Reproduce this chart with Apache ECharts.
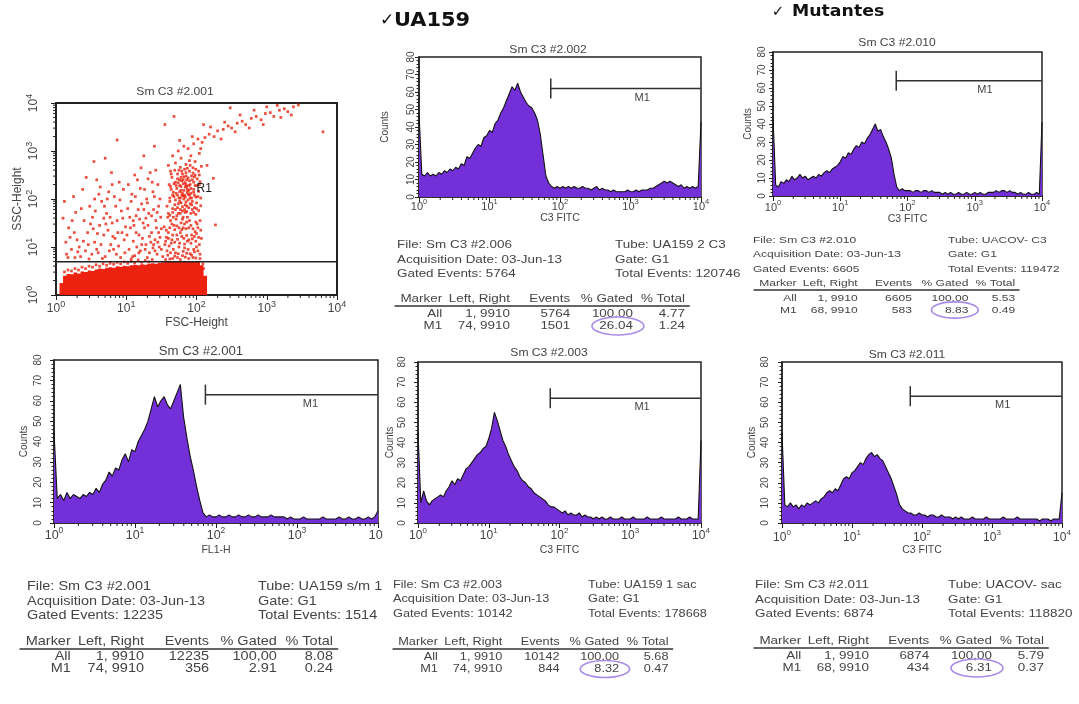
<!DOCTYPE html>
<html>
<head>
<meta charset="utf-8">
<script src="https://cdn.jsdelivr.net/npm/echarts@6/dist/echarts.min.js"></script>
<style>
  html, body { margin: 0; padding: 0; background: #ffffff; }
  #chart { width: 1079px; height: 704px; }
</style>
</head>
<body>
<div id="chart"></div>
<script>
// ---------------------------------------------------------------------------
// Flow cytometry data (fluorescence axes in decades: 0 = 10^0 ... 4 = 10^4)
// ---------------------------------------------------------------------------
const decadeStep = 0.04;   // spacing of histogram channels, in decades

// Counts per channel, one array per histogram
const hist2002 = [48,13,12,14,12,13,12,14,13,15,14,16,15,17,16,19,18,23,22,25,28,30,29,34,35,38,37,42,44,48,51,55,59,63,61,65,60,57,54,52,51,48,44,36,24,12,8,6,5,6,5,6,5,6,5,6,5,5,6,5,5,4,5,6,4,5,4,4,3,4,3,3,3,3,4,3,3,4,3,4,4,4,5,5,6,7,8,9,8,9,8,7,6,7,5,6,5,6,5,6,43];
const hist2010 = [44,6,5,8,7,9,8,11,9,10,12,10,11,9,10,11,10,12,11,13,14,13,15,16,17,19,22,21,24,23,26,28,27,30,29,32,34,37,40,36,37,33,30,26,21,12,5,3,4,3,3,3,2,3,3,2,3,3,2,3,2,2,2,1,2,1,2,1,1,2,1,1,2,1,1,2,1,2,1,1,2,2,2,3,2,3,3,2,3,2,2,1,2,1,1,2,1,1,2,1,41];
const hist2001 = [45,12,14,11,15,12,14,13,12,14,13,15,14,17,15,19,21,25,23,27,26,31,34,30,36,35,40,43,46,50,56,62,57,60,62,58,56,60,64,68,52,42,33,26,18,11,5,3,4,3,3,4,3,3,4,3,3,4,3,3,4,3,3,4,3,3,3,4,3,3,3,3,2,3,2,2,2,3,2,2,2,2,2,3,2,2,2,2,3,2,2,3,2,2,3,2,2,3,2,3,6];
const hist2003 = [45,10,16,11,9,11,12,13,14,13,16,18,21,19,22,21,24,27,28,30,32,34,35,37,38,42,47,55,51,46,41,38,34,31,28,26,23,21,20,18,17,15,14,13,12,11,9,8,8,7,6,5,6,4,5,4,4,5,3,4,3,3,2,3,2,3,2,2,3,2,2,2,3,2,2,2,3,2,2,2,2,3,2,2,2,2,3,2,2,2,2,2,3,2,2,2,3,2,2,2,41];
const hist2011 = [45,9,8,10,8,9,7,9,8,10,9,10,11,10,12,13,15,16,15,17,16,19,22,23,22,25,26,28,30,29,32,34,35,33,34,32,31,28,25,22,18,14,9,7,6,5,5,4,4,5,4,4,3,4,4,3,3,4,3,3,3,2,3,2,3,2,2,2,3,2,2,2,2,3,2,2,2,2,2,3,2,2,2,2,3,2,2,2,2,2,2,2,1,2,2,2,1,2,2,2,15];

const panelTitles = ['Sm C3 #2.002', 'Sm C3 #2.010', 'Sm C3 #2.001', 'Sm C3 #2.003', 'Sm C3 #2.011'];
const channelNames = ['C3 FITC', 'C3 FITC', 'FL1-H', 'C3 FITC', 'C3 FITC'];
const markerLeft = [74, 68, 74, 74, 68];      // M1 gate start channel
const markerRight = 9910;                      // M1 gate end channel
const markerCountLevel = [62, 64, 63, 62, 63]; // height at which M1 is drawn
const allLeft = 1;

// Scatter (FSC-Height vs SSC-Height), in decades
const scatterTitle = 'Sm C3 #2.001';
const regionR1Floor = 4.9;   // SSC channel of the R1 lower edge
// top of the saturated low-SSC band, per 0.05-decade FSC column starting at 0.05
const bandStartFsc = 0.05;
const bandStep = 0.05;
const bandTopSsc = [0.25,0.40,0.44,0.43,0.47,0.45,0.49,0.48,0.51,0.50,0.53,0.55,0.54,0.57,0.58,0.57,0.60,0.59,0.61,0.60,
                    0.62,0.63,0.62,0.64,0.63,0.65,0.66,0.65,0.67,0.68,0.69,0.69,0.69,0.69,0.69,0.69,0.69,0.69,0.69,0.69,0.62,0.40];
const scatterDecades = [
  // sparse low-FSC cloud
  [0.12,1.95],[0.18,1.40],[0.22,0.95],[0.15,0.85],[0.28,1.72],[0.30,1.15],[0.35,0.80],[0.25,2.05],[0.40,1.55],[0.42,0.92],
  [0.45,1.30],[0.38,2.20],[0.48,1.85],[0.20,1.20],[0.33,1.00],[0.47,0.75],[0.10,1.60],[0.27,0.78],
  [0.52,1.62],[0.55,1.10],[0.58,2.40],[0.60,0.88],[0.62,1.45],[0.65,1.95],[0.68,1.25],[0.70,0.80],[0.72,1.70],[0.75,2.15],
  [0.78,1.05],[0.80,1.50],[0.82,0.95],[0.85,1.85],[0.88,1.30],[0.90,2.35],[0.92,0.78],[0.95,1.60],[0.97,1.15],[0.55,2.00],
  [0.63,2.25],[0.74,1.35],[0.86,0.85],[0.58,0.95],[0.68,1.60],[0.79,2.55],[0.91,1.98],[0.53,1.38],[0.99,1.42],[0.84,1.18],
  [1.02,1.80],[1.04,0.95],[1.06,1.40],[1.08,2.10],[1.10,1.12],[1.12,0.82],[1.14,1.65],[1.16,2.40],[1.18,1.25],[1.20,0.92],
  [1.22,1.90],[1.24,1.50],[1.26,2.20],[1.28,1.05],[1.30,0.78],[1.32,1.70],[1.34,2.55],[1.36,1.30],[1.38,0.98],[1.40,2.05],
  [1.42,1.55],[1.44,0.85],[1.46,1.85],[1.48,1.20],[1.05,1.62],[1.15,1.00],[1.25,1.78],[1.35,1.10],[1.45,2.30],[1.03,2.30],
  [1.13,2.05],[1.23,1.18],[1.33,0.88],[1.43,1.40],[1.19,1.58],[1.29,2.00],[1.39,1.78],[1.47,1.00],[1.11,1.45],[1.21,2.65],
  [1.31,1.45],[1.41,1.15],[1.09,0.80],[1.27,0.95],[1.37,2.35],[1.49,1.62],
  [0.14,1.10],[0.17,0.78],[0.23,1.55],[0.26,1.30],[0.31,0.90],[0.36,1.80],[0.39,1.12],[0.43,2.45],[0.46,1.05],[0.49,1.48],
  [0.51,0.85],[0.56,1.75],[0.59,1.28],[0.61,2.10],[0.64,1.05],[0.66,0.76],[0.69,1.85],[0.71,1.48],[0.73,2.00],[0.76,0.92],
  [0.77,1.62],[0.81,1.22],[0.83,2.05],[0.87,1.55],[0.89,1.02],[0.93,1.75],[0.94,1.30],[0.96,2.20],[0.98,0.88],[1.01,1.25],
  [1.07,1.95],[1.10,1.55],[1.14,1.30],[1.17,1.78],[1.20,2.22],[1.22,1.05],[1.26,1.40],[1.30,1.92],[1.33,1.22],[1.36,1.65],
  [1.38,2.15],[1.41,0.92],[1.44,1.72],[1.46,1.30],[1.48,2.00],[1.50,1.38],[1.07,0.75],[1.18,0.88],[1.28,1.60],[1.39,1.05],
  [1.50,0.95],[1.42,2.60],[1.12,2.50],[0.80,2.30],[1.31,2.42],[1.45,1.10],
  // dense column and R1 cluster
  [1.52,0.80],[1.55,1.05],[1.58,0.92],[1.60,1.30],[1.62,0.75],[1.65,1.15],[1.68,1.45],[1.70,0.88],[1.72,1.25],[1.75,1.00],
  [1.78,1.50],[1.80,0.82],[1.82,1.18],[1.85,1.38],[1.88,0.95],[1.90,1.55],[1.92,1.08],[1.95,0.78],[1.98,1.32],[2.00,1.00],
  [2.03,1.20],[2.05,0.85],[1.54,1.42],[1.63,1.55],[1.73,0.78],[1.83,0.98],[1.93,1.25],[2.01,1.48],[1.57,1.20],[1.67,0.95],
  [1.77,1.30],[1.87,1.12],[1.97,0.90],[1.61,1.02],[1.71,1.58],[1.81,1.40],[1.91,0.86],[1.99,1.12],[2.06,1.35],[1.59,1.62],
  [1.56,0.74],[1.59,0.83],[1.63,0.88],[1.66,0.76],[1.69,0.81],[1.74,0.86],[1.77,0.74],[1.81,0.91],[1.84,0.79],[1.86,0.87],
  [1.89,0.76],[1.93,0.83],[1.96,0.95],[1.99,0.77],[2.02,0.92],[2.05,0.76],[1.56,1.12],[1.60,1.18],[1.64,1.08],[1.66,1.25],
  [1.69,1.10],[1.73,1.16],[1.76,1.08],[1.79,1.22],[1.83,1.06],[1.86,1.24],[1.89,1.15],[1.94,1.17],[1.97,1.22],[2.00,1.28],
  [2.04,1.05],[2.07,1.18],[1.57,1.35],[1.62,1.40],[1.65,1.48],[1.69,1.36],[1.72,1.44],[1.75,1.40],[1.79,1.36],[1.83,1.48],
  [1.86,1.52],[1.89,1.40],[1.92,1.45],[1.95,1.38],[1.99,1.52],[2.02,1.40],[2.05,1.55],[1.80,1.58],
  [1.60,1.70],[1.62,1.95],[1.64,2.20],[1.66,1.80],[1.68,2.05],[1.70,2.35],[1.72,1.65],[1.74,1.90],[1.76,2.15],[1.78,2.45],
  [1.80,1.75],[1.82,2.00],[1.84,2.25],[1.86,1.85],[1.88,2.10],[1.90,2.38],[1.92,1.70],[1.94,1.95],[1.96,2.20],[1.98,2.50],
  [2.00,1.80],[2.02,2.05],[2.04,2.30],[1.65,2.45],[1.75,2.60],[1.85,2.55],[1.95,2.65],[1.61,2.30],[1.71,2.12],[1.81,2.32],
  [1.91,2.02],[2.01,2.28],[1.67,1.62],[1.77,1.78],[1.87,1.62],[1.97,1.82],[1.63,2.58],[1.73,2.42],[1.83,2.62],[1.93,2.48],
  [2.03,2.58],[1.69,1.88],[1.79,2.08],[1.89,2.28],[1.99,1.68],[1.58,1.85],[1.78,1.92],[1.88,1.98],[1.82,2.18],[1.86,2.40],
  [1.76,2.28],[1.84,1.72],[1.92,2.12],[1.80,2.52],[1.72,2.22],[1.96,2.35],[1.66,2.08],[1.74,1.70],[1.94,1.78],[1.90,2.58],
  [1.84,1.88],[1.78,2.18],[1.87,2.20],[1.83,2.08],[1.79,2.38],[1.91,1.90],[1.75,2.02],[1.85,2.30],[1.81,1.62],[1.97,2.08],
  [1.62,1.66],[1.66,1.72],[1.70,1.78],[1.73,1.82],[1.77,1.70],[1.80,1.84],[1.83,1.78],[1.86,1.74],[1.89,1.82],[1.93,1.88],
  [1.96,1.72],[2.00,1.92],[2.03,1.76],[2.06,1.86],[1.76,1.95],[1.85,1.94],[1.62,2.02],[1.67,2.14],[1.70,1.98],[1.73,2.08],
  [1.77,2.02],[1.80,2.12],[1.84,2.04],[1.87,2.14],[1.90,2.08],[1.93,2.02],[1.96,2.14],[1.99,2.04],[2.03,2.16],[2.06,2.02],
  [1.81,2.06],[1.89,2.18],[1.63,2.26],[1.68,2.32],[1.71,2.28],[1.74,2.34],[1.78,2.26],[1.81,2.40],[1.84,2.34],[1.88,2.44],
  [1.91,2.30],[1.94,2.40],[1.98,2.28],[2.01,2.42],[2.05,2.36],[1.86,2.26],[1.76,2.40],[1.92,2.22],[1.64,2.52],[1.69,2.60],
  [1.73,2.52],[1.77,2.66],[1.82,2.46],[1.87,2.64],[1.91,2.70],[1.95,2.54],[1.99,2.62],[2.04,2.50],[2.07,2.68],[1.79,2.58],
  [1.85,2.48],[1.97,2.46],
  // upper column
  [1.70,2.75],[1.78,2.85],[1.85,2.72],[1.92,2.90],[1.98,2.78],[2.04,2.95],[1.74,3.00],[1.88,3.05],[1.96,3.15],[2.02,3.25],
  [1.82,3.10],[1.66,2.90],[2.06,3.05],[1.90,2.80],[1.60,2.70],[2.08,3.18],[1.94,3.30],[1.76,3.22],
  // high-FSC diagonal tail
  [2.12,3.28],[2.18,3.35],[2.25,3.30],[2.30,3.42],[2.38,3.45],[2.45,3.52],[2.50,3.48],[2.58,3.58],[2.65,3.62],[2.70,3.55],
  [2.78,3.68],[2.85,3.72],[2.92,3.65],[2.98,3.78],[3.05,3.80],[3.10,3.72],[3.18,3.85],[3.25,3.88],[3.30,3.82],[3.38,3.92],
  [3.45,3.96],[2.20,3.50],[2.40,3.60],[2.62,3.75],[2.82,3.85],[3.00,3.92],[3.15,3.95],[2.55,3.40],[2.75,3.48],[2.95,3.55],
  [3.20,3.70],[3.35,3.75],[2.35,3.25],
  // isolated events
  [3.80,3.40],[2.48,3.90],[1.68,3.72],[0.87,3.23],[0.54,2.78],[2.24,2.43],[2.27,1.46],[1.55,3.55],[1.40,3.10],[2.15,2.70],
  [1.25,2.90],[0.70,2.85],[2.10,3.55],
  // ragged top of the low-SSC band
  [0.12,0.48],[0.22,0.50],[0.32,0.52],[0.42,0.55],[0.52,0.58],[0.62,0.60],[0.72,0.62],[0.82,0.64],[0.92,0.65],[1.02,0.66],
  [1.12,0.67],[1.22,0.68],[1.32,0.69],[0.27,0.55],[0.47,0.60],[0.67,0.65],[0.87,0.68],[1.07,0.70],[1.27,0.72],[0.17,0.52],
  [0.37,0.58],[0.57,0.63],[0.77,0.66],[0.97,0.69],[1.17,0.73],[1.37,0.74],[2.10,0.55],[2.12,0.30],[2.09,0.65],[2.13,0.15]
];

// Statistics tables
const statFile = ['Sm C3 #2.006', 'Sm C3 #2.010', 'Sm C3 #2.001', 'Sm C3 #2.003', 'Sm C3 #2.011'];
const statTube = ['UA159 2 C3', 'UACOV- C3', 'UA159 s/m 1', 'UA159 1 sac', 'UACOV- sac'];
const statDate = '03-Jun-13';
const statGate = 'G1';
const statGatedEvents = [5764, 6605, 12235, 10142, 6874];
const statTotalEvents = ['120746', '119472', '1514', '178668', '118820'];
const statAllPctGated = ['100.00', '100.00', '100,00', '100.00', '100,00'];
const statAllPctTotal = ['4.77', '5.53', '8.08', '5.68', '5.79'];
const statM1Events = [1501, 583, 356, 844, 434];
const statM1PctGated = ['26.04', '8.83', '2.91', '8.32', '6.31'];
const statM1PctTotal = ['1.24', '0.49', '0.24', '0.47', '0.37'];
const statCircled = [true, true, false, true, true];
const tableHeader = ['Marker', 'Left, Right', 'Events', '% Gated', '% Total'];

// ---------------------------------------------------------------------------
// Layout and styling
// ---------------------------------------------------------------------------
const FONT = '"Liberation Sans", Arial, sans-serif';
const INK = '#222222';
const TXT = '#444444';
const FILL = '#7430d8';
const DOT = '#e8200c';

const histLayout = [
  { grid: { left: 419, top: 57,  width: 282, height: 140 }, lab: 11,   sup: 7.5, xm: 1, xng: 10, ym: 3,  yng: 29, title: [548, 50], tfs: 11 },
  { grid: { left: 773, top: 52,  width: 269, height: 144 }, lab: 11,   sup: 7.5, xm: 3, xng: 12, ym: 6,  yng: 20, title: [897, 43], tfs: 11 },
  { grid: { left: 54,  top: 360, width: 324, height: 163 }, lab: 12.5, sup: 8.5, xm: 3, xng: 22, ym: 11, yng: 25, title: [201, 352], tfs: 12 },
  { grid: { left: 418, top: 362, width: 283, height: 161 }, lab: 12,   sup: 8,   xm: 4, xng: 22, ym: 11, yng: 23, title: [549, 353], tfs: 11 },
  { grid: { left: 782, top: 362, width: 280, height: 161 }, lab: 12,   sup: 8,   xm: 6, xng: 22, ym: 12, yng: 25, title: [907, 355], tfs: 11 }
];
const scatterLayout = { grid: { left: 56, top: 103, width: 281, height: 192 }, lab: 12, sup: 9, xm: 5, xng: 22, ym: 13, yng: 30, title: [175, 92], tfs: 11 };

const blockLayout = [
  { x0: 397, fileX: 397, yFile: 245, yHead: 299, s: 1.0,  tubeX: 615 },
  { x0: 756, fileX: 753, yFile: 240, yHead: 283, s: 0.9,  tubeX: 948 },
  { x0: 22,  fileX: 27,  yFile: 587, yHead: 642, s: 1.08, tubeX: 258 },
  { x0: 395, fileX: 393, yFile: 585, yHead: 642, s: 0.95, tubeX: 588 },
  { x0: 756, fileX: 755, yFile: 585, yHead: 641, s: 1.0,  tubeX: 948 }
];
const colRight = [37, 92.6, 142, 193.4, 236];
const STRETCH = 1.22;

// minor tick positions of a 4-decade log axis
const logMinor = [];
for (let d = 0; d < 4; d++) for (let k = 2; k <= 9; k++) logMinor.push(d + Math.log10(k));

function decadeLabel(size, sup) {
  return {
    formatter: v => '{b|10}{s|' + v + '}',
    rich: {
      b: { fontSize: size, fontFamily: FONT, color: TXT, lineHeight: size + 6 },
      s: { fontSize: sup, fontFamily: FONT, color: TXT, lineHeight: sup + 1, verticalAlign: 'top' }
    }
  };
}

function gridOf(L) {
  return Object.assign({ show: true, borderColor: INK, borderWidth: 1.5, backgroundColor: 'rgba(0,0,0,0)',
    containLabel: false, outerBoundsMode: 'none' }, L.grid);
}

function decadeXAxis(gi, L, name) {
  return {
    gridIndex: gi, type: 'value', min: 0, max: 4, interval: 1,
    axisLine: { show: true, onZero: false, lineStyle: { color: INK, width: 1.5 } },
    axisTick: { show: true, length: 5, lineStyle: { color: INK, width: 1 } },
    splitLine: { show: false },
    axisLabel: Object.assign({ margin: L.xm, showMinLabel: true, showMaxLabel: true }, decadeLabel(L.lab, L.sup)),
    name: name, nameLocation: 'middle', nameGap: L.xng,
    nameTextStyle: { fontSize: gi === 5 ? 12 : 10.5, fontFamily: FONT, color: TXT }
  };
}

function countsYAxis(gi, L) {
  return {
    gridIndex: gi, type: 'value', min: 0, max: 80, interval: 10,
    axisLine: { show: true, onZero: false, lineStyle: { color: INK, width: 1.5 } },
    axisTick: { show: true, length: 4, lineStyle: { color: INK, width: 1 } },
    minorTick: { show: true, splitNumber: 5, length: 2.5, lineStyle: { color: INK, width: 1 } },
    splitLine: { show: false }, minorSplitLine: { show: false },
    axisLabel: { rotate: 90, margin: L.ym, fontSize: 10, fontFamily: FONT, color: TXT },
    name: 'Counts', nameLocation: 'middle', nameRotate: 90, nameGap: L.yng,
    nameTextStyle: { fontSize: 10, fontFamily: FONT, color: TXT }
  };
}

function minorTickSeries(ai, vertical) {
  return {
    type: 'custom', xAxisIndex: ai, yAxisIndex: ai, silent: true, clip: false, z: 5,
    data: logMinor.map(p => vertical ? [0, p] : [p, 0]),
    renderItem: (params, api) => {
      const pt = api.coord([api.value(0), api.value(1)]);
      const shape = vertical
        ? { x1: pt[0] - 3, y1: pt[1], x2: pt[0], y2: pt[1] }
        : { x1: pt[0], y1: pt[1], x2: pt[0], y2: pt[1] + 3 };
      return { type: 'line', shape: shape, style: { stroke: INK, lineWidth: 1 } };
    }
  };
}

const grids = [], xAxes = [], yAxes = [], series = [];
const histograms = [hist2002, hist2010, hist2001, hist2003, hist2011];

histograms.forEach((counts, i) => {
  const L = histLayout[i];
  grids.push(gridOf(L));
  xAxes.push(decadeXAxis(i, L, channelNames[i]));
  yAxes.push(countsYAxis(i, L));
  series.push({
    type: 'line', xAxisIndex: i, yAxisIndex: i, z: 2,
    data: counts.map((c, k) => [k * decadeStep, c]),
    symbol: 'none', showSymbol: false, smooth: false,
    lineStyle: { color: '#121212', width: 1.1 },
    areaStyle: { color: FILL, opacity: 1 }
  });
  series.push(minorTickSeries(i, false));
  // M1 gate marker
  series.push({
    type: 'custom', xAxisIndex: i, yAxisIndex: i, silent: true, clip: false, z: 6,
    data: [[Math.log10(markerLeft[i]), Math.log10(markerRight), markerCountLevel[i]]],
    renderItem: (params, api) => {
      const l = api.coord([api.value(0), api.value(2)]);
      const r = api.coord([api.value(1), api.value(2)]);
      const lx = l[0] + (r[0] - l[0]) * 0.61;
      return {
        type: 'group',
        children: [
          { type: 'line', shape: { x1: l[0], y1: l[1], x2: r[0], y2: r[1] }, style: { stroke: '#303030', lineWidth: 1.5 } },
          { type: 'line', shape: { x1: l[0], y1: l[1] - 10, x2: l[0], y2: l[1] + 10 }, style: { stroke: '#303030', lineWidth: 1.5 } },
          { type: 'text', x: lx, y: l[1] + 9, style: { text: 'M1', fill: TXT, font: '11px ' + FONT,
            align: 'center', textAlign: 'center', verticalAlign: 'middle', textVerticalAlign: 'middle' } }
        ]
      };
    }
  });
});

// scatter panel (grid index 5)
const S = 5;
grids.push(Object.assign(gridOf(scatterLayout), { borderWidth: 2 }));
xAxes.push(decadeXAxis(S, scatterLayout, 'FSC-Height'));
yAxes.push({
  gridIndex: S, type: 'value', min: 0, max: 4, interval: 1,
  axisLine: { show: true, onZero: false, lineStyle: { color: INK, width: 2 } },
  axisTick: { show: true, length: 5, lineStyle: { color: INK, width: 1 } },
  splitLine: { show: false },
  axisLabel: Object.assign({ rotate: 90, margin: scatterLayout.ym, showMinLabel: true, showMaxLabel: true },
    decadeLabel(scatterLayout.lab, scatterLayout.sup)),
  name: 'SSC-Height', nameLocation: 'middle', nameRotate: 90, nameGap: scatterLayout.yng,
  nameTextStyle: { fontSize: 12, fontFamily: FONT, color: TXT }
});
// saturated low-SSC band: one step-shaped polygon over all band columns
series.push({
  type: 'custom', xAxisIndex: S, yAxisIndex: S, silent: true, z: 2,
  data: bandTopSsc.map((t, k) => [bandStartFsc + k * bandStep, t]),
  renderItem: (params, api) => {
    if (params.dataIndexInside !== 0) return null;
    const n = params.dataInsideLength;
    const pts = [api.coord([api.value(0, 0), 0])];
    for (let k = 0; k < n; k++) {
      const x = api.value(0, k), top = api.value(1, k);
      pts.push(api.coord([x, top]));
      pts.push(api.coord([x + bandStep, top]));
    }
    pts.push(api.coord([api.value(0, n - 1) + bandStep, 0]));
    return { type: 'polygon', shape: { points: pts }, style: { fill: '#ee2210' } };
  }
});
series.push({
  type: 'scatter', xAxisIndex: S, yAxisIndex: S, z: 3,
  data: scatterDecades, symbol: 'rect', symbolSize: 2.7,
  itemStyle: { color: DOT }
});
series.push({
  type: 'custom', xAxisIndex: S, yAxisIndex: S, silent: true, z: 6,
  data: [[0, 4, Math.log10(regionR1Floor)]],
  renderItem: (params, api) => {
    const a = api.coord([api.value(0), api.value(2)]);
    const b = api.coord([api.value(1), api.value(2)]);
    const lab = api.coord([2.0, 2.21]);
    return {
      type: 'group',
      children: [
        { type: 'line', shape: { x1: a[0], y1: a[1], x2: b[0], y2: b[1] }, style: { stroke: INK, lineWidth: 1.5 } },
        { type: 'text', x: lab[0], y: lab[1], style: { text: 'R1', fill: '#222', font: '12px ' + FONT,
          align: 'left', textAlign: 'left', verticalAlign: 'middle', textVerticalAlign: 'middle' } }
      ]
    };
  }
});
series.push(minorTickSeries(S, false));
series.push(minorTickSeries(S, true));

// ---------------------------------------------------------------------------
// Text: headings, panel titles, statistics tables
// ---------------------------------------------------------------------------
function txt(x, y, text, size, align, extra) {
  return Object.assign({
    type: 'text', x: x, y: y,
    style: { text: text, fill: TXT, font: size + 'px ' + FONT,
      align: align, textAlign: align, verticalAlign: 'middle', textVerticalAlign: 'middle' }
  }, extra || {});
}
function heading(x, y, text, font, scaleX, align) {
  return { type: 'text', x: x, y: y, scaleX: scaleX,
    style: { text: text, fill: '#111', font: font, align: align, textAlign: align,
      verticalAlign: 'middle', textVerticalAlign: 'middle' } };
}

const graphics = [];
graphics.push(heading(387, 21, '\u2713', '17px "DejaVu Sans"', 1, 'center'));
graphics.push(heading(394, 21, 'UA159', 'bold 19px "DejaVu Sans"', 1.1, 'left'));
graphics.push(heading(778, 12, '\u2713', '15px "DejaVu Sans"', 1, 'center'));
graphics.push(heading(792, 12, 'Mutantes', 'bold 16.5px "DejaVu Sans"', 1.05, 'left'));

histLayout.concat([scatterLayout]).forEach((L, i) => {
  const t = i < 5 ? panelTitles[i] : scatterTitle;
  graphics.push(txt(L.title[0], L.title[1], t, L.tfs, 'center', { scaleX: 1.1 }));
});

blockLayout.forEach((B, i) => {
  const s = B.s, fs = 11 * s;
  const lx = v => (v - B.x0) / STRETCH;
  const children = [
    txt(lx(B.fileX), B.yFile, 'File: ' + statFile[i], fs, 'left'),
    txt(lx(B.fileX), B.yFile + 14.5, 'Acquisition Date: ' + statDate, fs, 'left'),
    txt(lx(B.fileX), B.yFile + 29, 'Gated Events: ' + statGatedEvents[i], fs, 'left'),
    txt(lx(B.tubeX), B.yFile, 'Tube: ' + statTube[i], fs, 'left'),
    txt(lx(B.tubeX), B.yFile + 14.5, 'Gate: ' + statGate, fs, 'left'),
    txt(lx(B.tubeX), B.yFile + 29, 'Total Events: ' + statTotalEvents[i], fs, 'left'),
    { type: 'line', shape: { x1: -2, y1: B.yHead + 7, x2: 240 * s, y2: B.yHead + 7 }, style: { stroke: '#333', lineWidth: 1.3 } }
  ];
  tableHeader.forEach((h, c) => children.push(txt(colRight[c] * s, B.yHead, h, fs, 'right')));
  const rowAll = ['All', allLeft + ', ' + markerRight, String(statGatedEvents[i]), statAllPctGated[i], statAllPctTotal[i]];
  const rowM1 = ['M1', markerLeft[i] + ', ' + markerRight, String(statM1Events[i]), statM1PctGated[i], statM1PctTotal[i]];
  rowAll.forEach((v, c) => children.push(txt(colRight[c] * s, B.yHead + 15, v, fs, 'right')));
  rowM1.forEach((v, c) => children.push(txt(colRight[c] * s, B.yHead + 27, v, fs, 'right')));
  graphics.push({ type: 'group', x: B.x0, y: 0, scaleX: STRETCH, children: children });
  if (statCircled[i]) {
    graphics.push({
      type: 'ellipse',
      shape: { cx: B.x0 + STRETCH * colRight[3] * s - 15 * s, cy: B.yHead + 27, rx: 26 * s, ry: 9 * s },
      style: { fill: 'rgba(0,0,0,0)', stroke: '#a98be6', lineWidth: 1.6 }
    });
  }
});

// the neighbouring panel hides the end of the FL1-H decade labels
graphics.push({ type: 'rect', z: 100, shape: { x: 383, y: 524, width: 9, height: 22 }, style: { fill: '#ffffff' } });

const chart = echarts.init(document.getElementById('chart'), null, { renderer: 'canvas' });
chart.setOption({
  animation: false,
  backgroundColor: '#ffffff',
  textStyle: { fontFamily: FONT },
  grid: grids,
  xAxis: xAxes,
  yAxis: yAxes,
  series: series,
  graphic: { elements: graphics }
});
</script>
</body>
</html>
